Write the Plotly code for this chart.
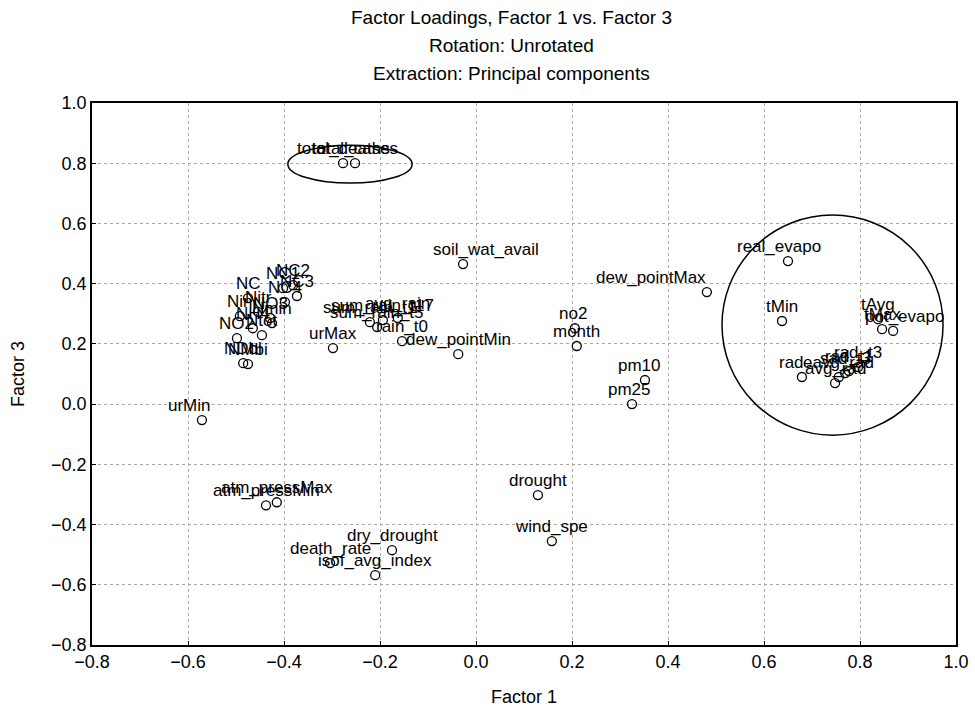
import plotly.graph_objects as go

# ---- data (Factor 1 loading, Factor 3 loading) ----
labels = [
    "total_deaths", "total_cases",
    "NC1", "NC2", "NC3", "NC", "NC4", "Nin", "Nitr", "NO3", "NH4", "Ntot", "NO2", "Nmin", "NDbl", "NMbi",
    "urMax", "urMin",
    "sum_rain_t1", "sum_rain_t5", "sum_rain_t17", "avg_rain", "rain_t0",
    "soil_wat_avail", "dew_pointMin", "dew_pointMax",
    "no2", "month", "pm10", "pm25",
    "atm_pressMax", "atm_pressMin",
    "drought", "wind_spe", "dry_drought", "death_rate", "isof_avg_index",
    "real_evapo", "tMin", "tAvg", "tMax", "pot_evapo",
    "rad", "avg_rad", "eavg_rad", "sad_t3", "rad_t1", "rad_t3",
]
factor1 = [
    -0.277, -0.252,
    -0.402, -0.381, -0.373, -0.475, -0.398, -0.492, -0.454, -0.429, -0.465, -0.446, -0.498, -0.425, -0.485, -0.475,
    -0.298, -0.571,
    -0.221, -0.206, -0.194, -0.163, -0.154,
    -0.027, -0.037, 0.481,
    0.206, 0.210, 0.352, 0.325,
    -0.415, -0.4375,
    0.129, 0.158, -0.175, -0.304, -0.210,
    0.650, 0.6375, 0.8375, 0.846, 0.869,
    0.679, 0.748, 0.756, 0.769, 0.777, 0.796,
]
factor3 = [
    0.800, 0.800,
    0.385, 0.395, 0.359, 0.352, 0.339, 0.292, 0.306, 0.286, 0.252, 0.229, 0.219, 0.269, 0.136, 0.133,
    0.186, -0.053,
    0.272, 0.256, 0.279, 0.286, 0.209,
    0.465, 0.166, 0.372,
    0.252, 0.193, 0.080, 0.000,
    -0.326, -0.336,
    -0.302, -0.455, -0.485, -0.528, -0.568,
    0.475, 0.276, 0.282, 0.249, 0.243,
    0.090, 0.070, 0.090, 0.103, 0.110, 0.123,
]

title_lines = [
    "Factor Loadings, Factor 1 vs. Factor 3",
    "Rotation: Unrotated",
    "Extraction: Principal components",
]
x_title = "Factor 1"
y_title = "Factor 3"

# horizontal label nudges (pixels), styling only
label_dx = {
    "soil_wat_avail": 23, "dew_pointMax": -56, "real_evapo": -9, "urMin": -12,
    "pm10": -5, "pm25": -3, "no2": -2, "pot_evapo": 11, "rad": -10,
}

# highlight ellipses (data coordinates)
ellipse_top = dict(x0=-0.392, x1=-0.133, y0=0.734, y1=0.860)
ellipse_right = dict(x0=0.5125, x1=0.973, y0=-0.103, y1=0.628)

FONT = "Liberation Sans, Arial, sans-serif"

fig = go.Figure()
fig.add_trace(go.Scatter(
    x=factor1, y=factor3, mode="markers",
    marker=dict(symbol="circle-open", size=9, color="black", line=dict(width=1.3, color="black")),
    hoverinfo="text", text=labels, showlegend=False,
))

for lab, xv, yv in zip(labels, factor1, factor3):
    fig.add_annotation(
        x=xv, y=yv, text=lab, showarrow=False, xanchor="center", yanchor="bottom",
        xshift=label_dx.get(lab, 0), yshift=3,
        font=dict(family=FONT, size=17, color="black"),
    )

for e in (ellipse_top, ellipse_right):
    fig.add_shape(type="circle", xref="x", yref="y", line=dict(color="black", width=1.5), **e)

for i, line in enumerate(title_lines):
    fig.add_annotation(
        xref="paper", yref="paper", x=0.486, y=1, yshift=86 - 28 * i,
        xanchor="center", yanchor="middle", text=line, showarrow=False,
        font=dict(family=FONT, size=19, color="black"),
    )

# axis titles
fig.add_annotation(xref="paper", yref="paper", x=0.5, y=0, yshift=-52, xanchor="center",
                   yanchor="middle", text=x_title, showarrow=False,
                   font=dict(family=FONT, size=18, color="black"))
fig.add_annotation(xref="paper", yref="paper", x=0, y=0.5, xshift=-74, xanchor="center",
                   yanchor="middle", text=y_title, textangle=-90, showarrow=False,
                   font=dict(family=FONT, size=18, color="black"))

axis_common = dict(
    range=[-0.8, 1.0], dtick=0.2, tick0=-0.8, tickformat=".1f",
    showgrid=True, gridcolor="#a8a8a8", gridwidth=1, griddash="dot",
    showline=True, linecolor="black", linewidth=1.5, mirror=True,
    zeroline=False, ticks="inside", ticklen=4, tickcolor="black",
    tickfont=dict(family=FONT, size=18, color="black"), automargin=False,
)

fig.update_layout(
    width=975, height=714,
    margin=dict(l=92, r=19, t=103, b=69),
    paper_bgcolor="white", plot_bgcolor="white",
    font=dict(family=FONT, color="black"),
    xaxis=dict(**axis_common),
    yaxis=dict(**axis_common),
)

fig.write_html("out.html")
